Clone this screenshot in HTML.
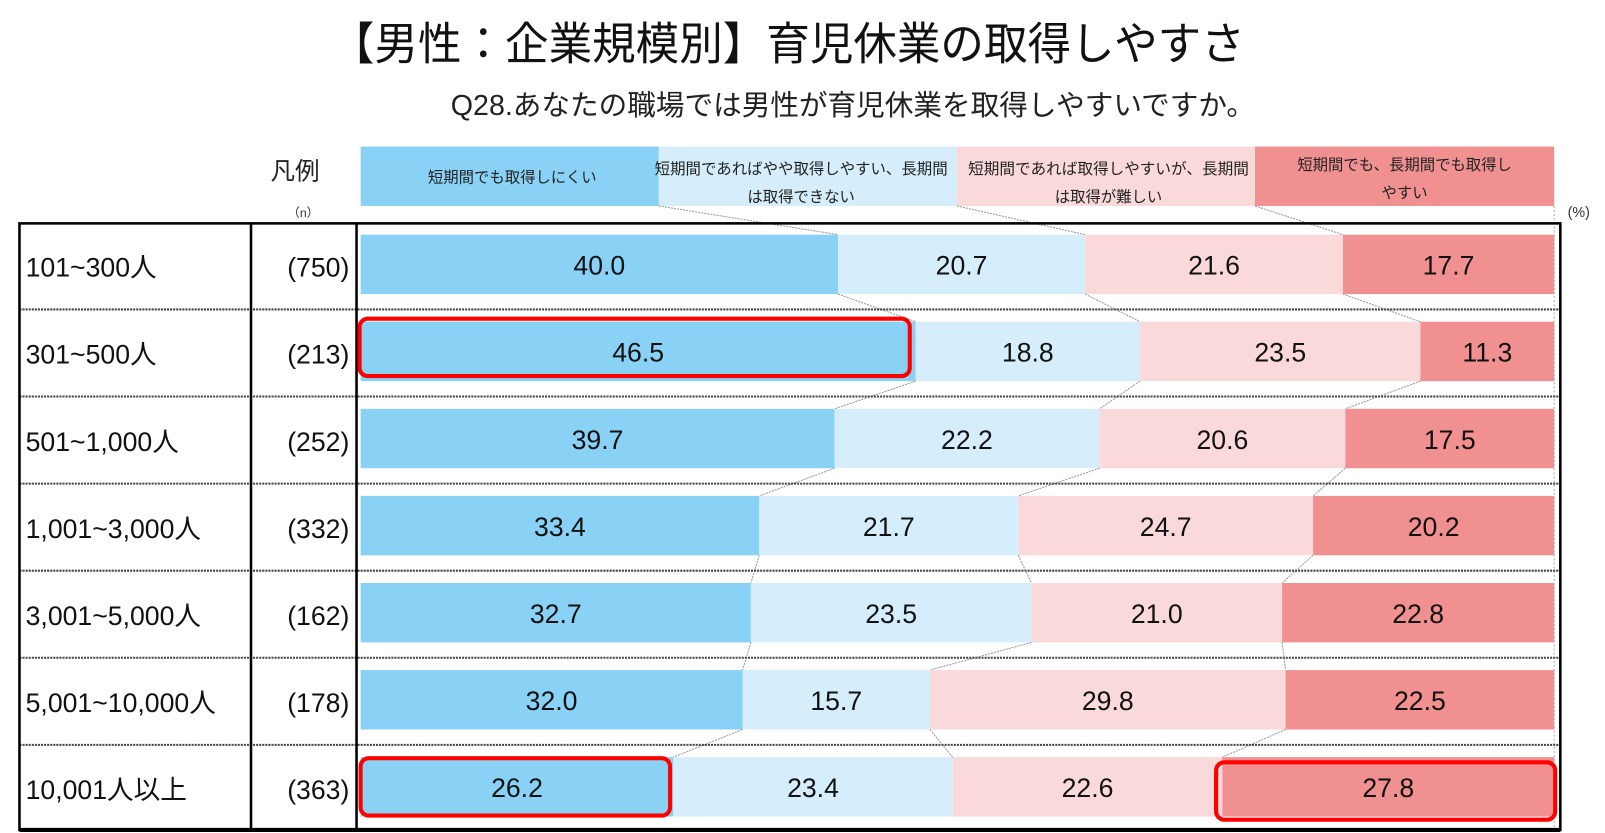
<!DOCTYPE html>
<html><head><meta charset="utf-8"><style>
html,body{margin:0;padding:0;background:#fff;}
svg{display:block;font-family:"Liberation Sans","Noto Sans CJK JP",sans-serif;}
</style></head><body>
<svg width="1605" height="833" viewBox="0 0 1566.6 813" xmlns="http://www.w3.org/2000/svg">
<text x="323" y="58" font-size="44" textLength="892" lengthAdjust="spacingAndGlyphs" fill="#111">【男性：企業規模別】育児休業の取得しやすさ</text>
<text x="440" y="112" font-size="28" textLength="785" lengthAdjust="spacingAndGlyphs" fill="#222">Q28.あなたの職場では男性が育児休業を取得しやすいですか。</text>
<text x="288" y="175" font-size="24" text-anchor="middle" fill="#222">凡例</text>
<text x="296" y="212" font-size="12" text-anchor="middle" fill="#333">（n）</text>
<text x="1541" y="212" font-size="14" text-anchor="middle" fill="#333">(%)</text>
<rect x="352" y="143" width="291" height="58" fill="#89d2f6"/>
<rect x="643" y="143" width="291" height="58" fill="#d6eefb"/>
<rect x="934" y="143" width="291" height="58" fill="#fad9da"/>
<rect x="1225" y="143" width="292" height="58" fill="#f19090"/>
<g font-size="15" fill="#222" text-anchor="middle">
<text x="500" y="178">短期間でも取得しにくい</text>
<text x="782" y="170" textLength="286" lengthAdjust="spacingAndGlyphs">短期間であればやや取得しやすい、長期間</text>
<text x="782" y="197">は取得できない</text>
<text x="1082" y="170" textLength="274" lengthAdjust="spacingAndGlyphs">短期間であれば取得しやすいが、長期間</text>
<text x="1082" y="197">は取得が難しい</text>
<text x="1371" y="166">短期間でも、長期間でも取得し</text>
<text x="1371" y="193">やすい</text>
</g>
<g id="bars"></g>
<g stroke="#999" stroke-width="1" stroke-dasharray="2,1" fill="none" id="conn"></g>
<line x1="1517" y1="201" x2="1517" y2="810" stroke="#aaa" stroke-dasharray="2,2"/>
<g id="grid"></g>
<rect x="19" y="218" width="1504" height="592" fill="none" stroke="#000" stroke-width="2.5"/>
<line x1="245" y1="217" x2="245" y2="811" stroke="#000" stroke-width="2.5"/>
<line x1="348" y1="217" x2="348" y2="811" stroke="#000" stroke-width="2.5"/>
<line x1="19" y1="810" x2="1523" y2="810" stroke="#000" stroke-width="4"/>
<g id="labels" font-size="26" fill="#111"></g>
<g fill="none" stroke="#f00" stroke-width="4">
<rect x="351" y="311" width="537" height="56" rx="8"/>
<rect x="352" y="740" width="302" height="56" rx="8"/>
<rect x="1187" y="744" width="331" height="56" rx="8"/>
</g>
<script>
var ns="http://www.w3.org/2000/svg";
function el(t,a,p,txt){var e=document.createElementNS(ns,t);for(var k in a)e.setAttribute(k,a[k]);if(txt!=null)e.textContent=txt;document.getElementById(p).appendChild(e);return e;}
var rows=[["101~300人","(750)",[40.0,20.7,21.6,17.7]],["301~500人","(213)",[46.5,18.8,23.5,11.3]],["501~1,000人","(252)",[39.7,22.2,20.6,17.5]],["1,001~3,000人","(332)",[33.4,21.7,24.7,20.2]],["3,001~5,000人","(162)",[32.7,23.5,21.0,22.8]],["5,001~10,000人","(178)",[32.0,15.7,29.8,22.5]],["10,001人以上","(363)",[26.2,23.4,22.6,27.8]]];
var cols=["#89d2f6","#d6eefb","#fad9da","#f19090"];
var X0=352,W=1165,XE=1517;
var prev=[643,934,1225],prevY=201;
rows.forEach(function(r,i){
 var top=217+85*i, by=top+12, bh=58;
 var xs=[X0],c=0;
 for(var j=0;j<3;j++){c+=r[2][j];xs.push(X0+W*c/100);}
 xs.push(XE);
 for(var j=0;j<4;j++){
  el("rect",{x:xs[j],y:by,width:xs[j+1]-xs[j],height:bh,fill:cols[j]},"bars");
  el("text",{x:(xs[j]+xs[j+1])/2,y:by+39,"font-size":26,"text-anchor":"middle",fill:"#111"},"bars",r[2][j].toFixed(1));
 }
 for(var j=0;j<3;j++) el("line",{x1:prev[j],y1:prevY,x2:xs[j+1],y2:by},"conn");
 prev=[xs[1],xs[2],xs[3]];prevY=by+bh;
 if(i>0) el("line",{x1:19,y1:top,x2:1523,y2:top,stroke:"#444","stroke-width":2,"stroke-dasharray":"2,1"},"grid");
 el("text",{x:25,y:top+53},"labels",r[0]);
 el("text",{x:341,y:top+53,"text-anchor":"end"},"labels",r[1]);
});
</script>
</svg>
</body></html>
